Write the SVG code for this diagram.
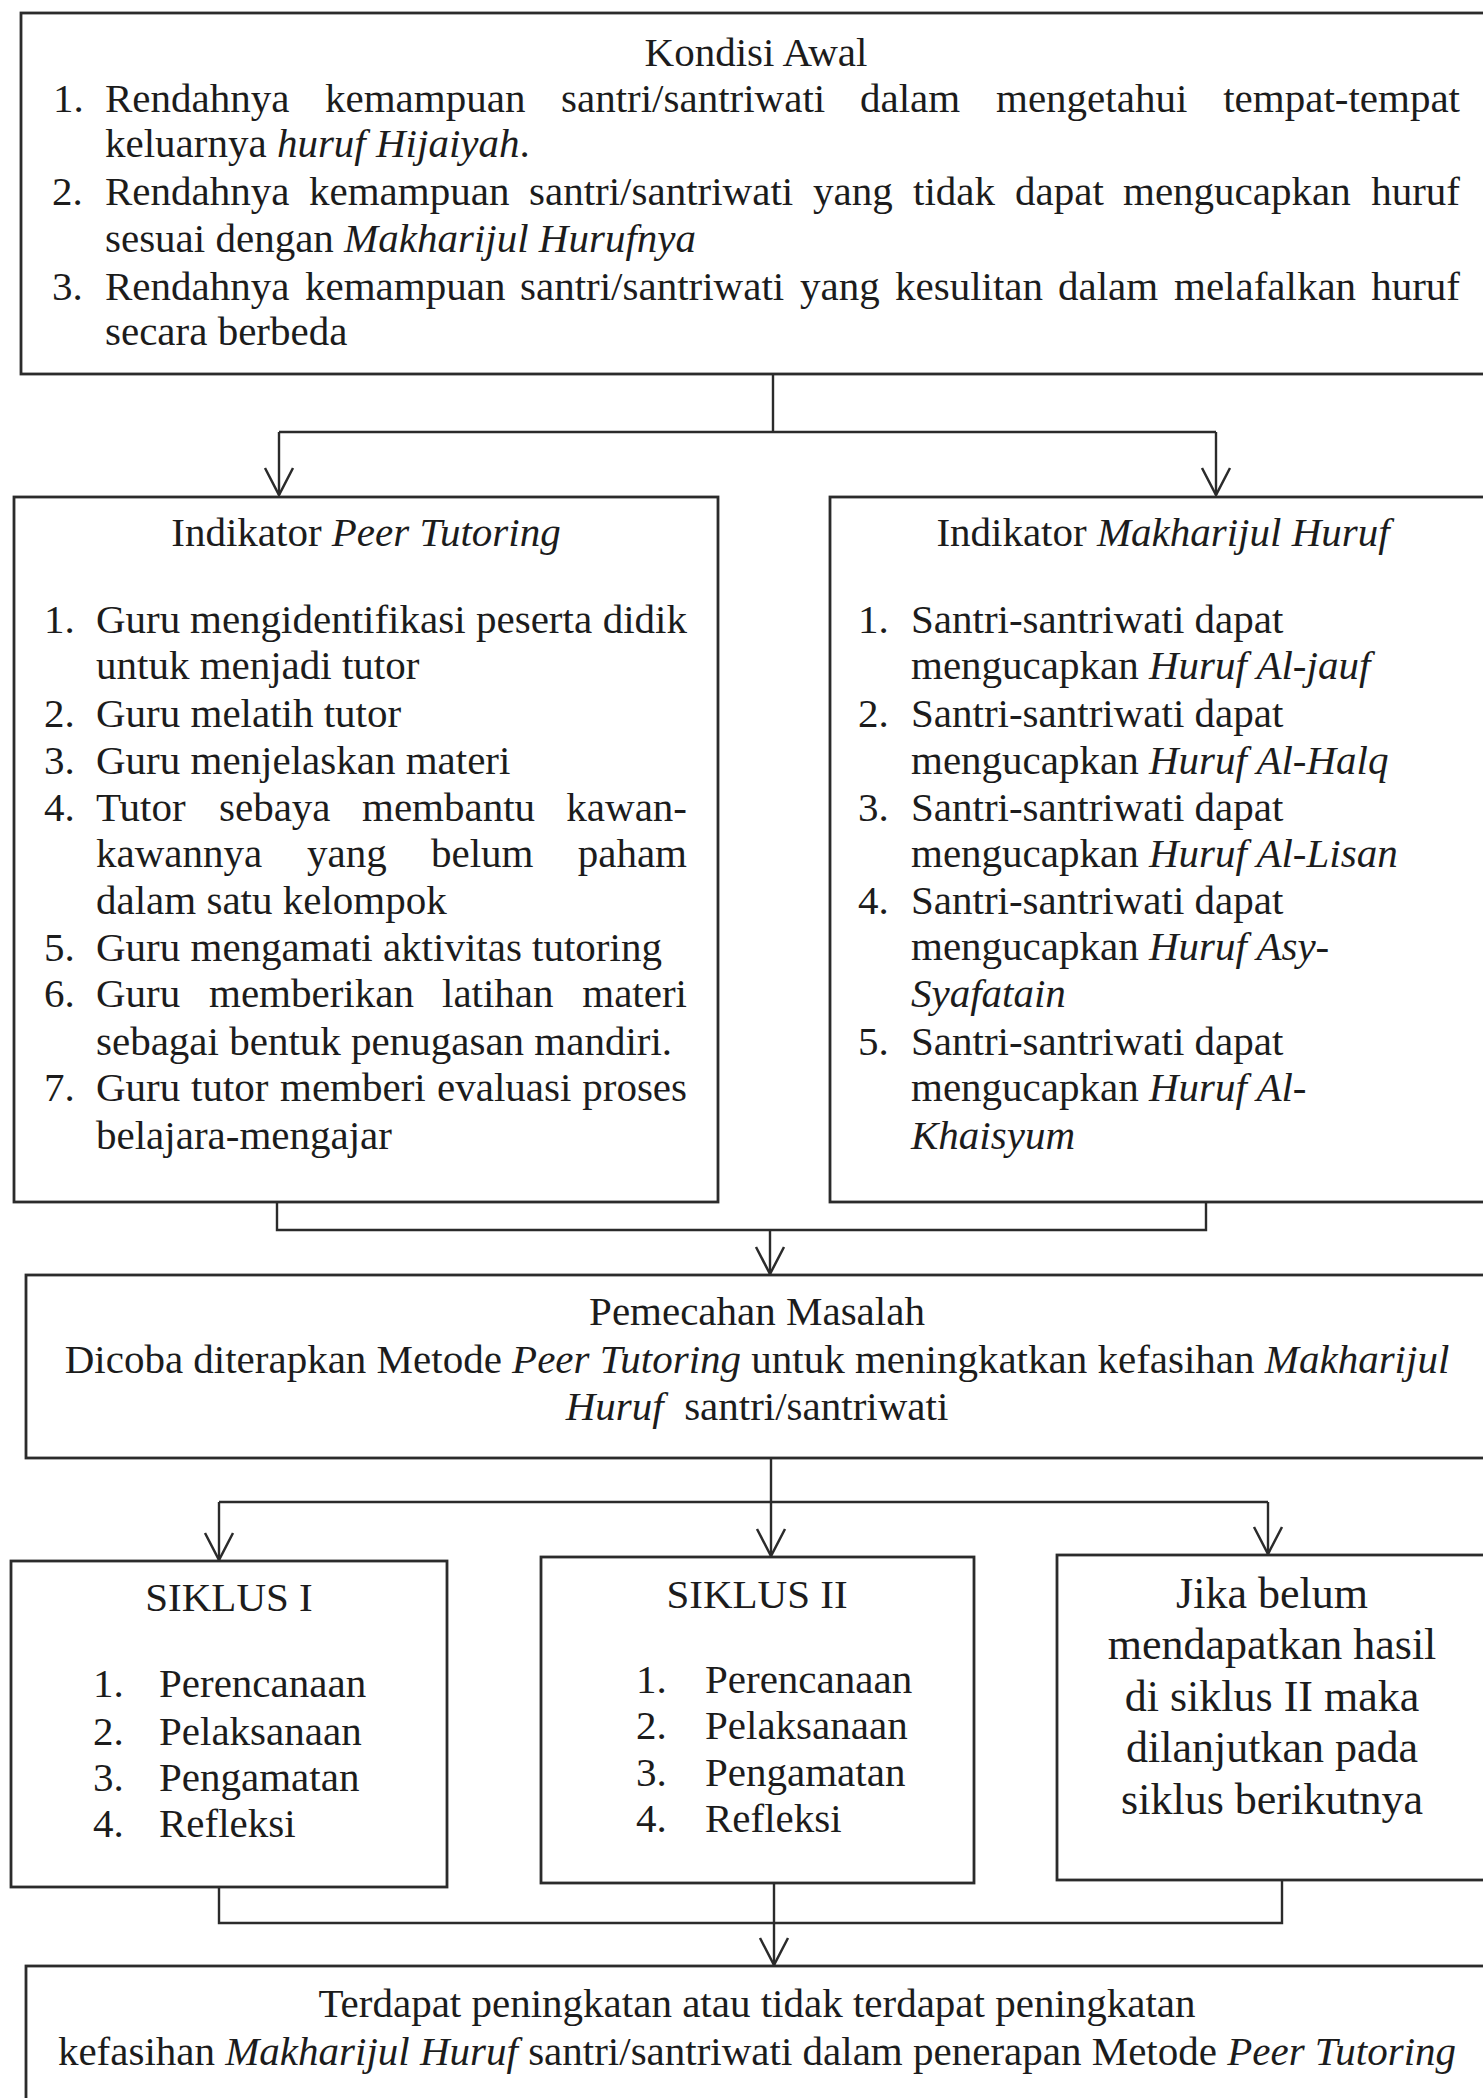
<svg xmlns="http://www.w3.org/2000/svg" width="1483" height="2098" viewBox="0 0 1483 2098">
<style>
.box{fill:#ffffff;stroke:#2b2b2b;stroke-width:2.8}
.t{font-family:"Liberation Serif","Times New Roman",serif;font-size:41px;fill:#1c1c1c}
.big{font-size:44px}
.c{text-anchor:middle}
.e{text-anchor:end}
.i{font-style:italic}
.ln{fill:none;stroke:#2b2b2b;stroke-width:2.4}
</style>
<defs>
<marker id="arr" markerWidth="40" markerHeight="40" refX="30" refY="20" orient="auto" markerUnits="userSpaceOnUse" viewBox="0 0 40 40">
<path d="M3,6 L30,20 L3,34" fill="none" stroke="#2b2b2b" stroke-width="2.5"/>
</marker>
</defs>
<rect x="0" y="0" width="1483" height="2098" fill="#ffffff"/>

<g id="connectors">
<path class="ln" d="M773,374 V432 M279,432 H1216"/>
<path class="ln" d="M279,432 V495" marker-end="url(#arr)"/>
<path class="ln" d="M1216,432 V495" marker-end="url(#arr)"/>
<path class="ln" d="M277,1202 V1230 H1206 V1202"/>
<path class="ln" d="M770,1230 V1274" marker-end="url(#arr)"/>
<path class="ln" d="M771,1458 V1502 M219,1502 H1268"/>
<path class="ln" d="M219,1502 V1560" marker-end="url(#arr)"/>
<path class="ln" d="M771,1502 V1556" marker-end="url(#arr)"/>
<path class="ln" d="M1268,1502 V1554" marker-end="url(#arr)"/>
<path class="ln" d="M219,1887 V1923 H1282 V1880 M774,1883 V1923"/>
<path class="ln" d="M774,1923 V1965" marker-end="url(#arr)"/>
</g>

<g id="kondisi-awal">
<rect class="box" x="21" y="13" width="1471" height="361"/>
<text class="t c" x="756" y="66">Kondisi Awal</text>
<text class="t" y="112"><tspan x="53">1.</tspan><tspan x="105">Rendahnya</tspan><tspan x="325">kemampuan</tspan><tspan x="561">santri/santriwati</tspan><tspan x="860">dalam</tspan><tspan x="996">mengetahui</tspan></text>
<text class="t e" x="1460" y="112">tempat-tempat</text>
<text class="t" x="105" y="157">keluarnya <tspan class="i">huruf Hijaiyah</tspan>.</text>
<text class="t" y="205"><tspan x="52">2.</tspan><tspan x="105">Rendahnya</tspan><tspan x="309">kemampuan</tspan><tspan x="529">santri/santriwati</tspan><tspan x="813">yang</tspan><tspan x="913">tidak</tspan><tspan x="1015">dapat</tspan><tspan x="1123">mengucapkan</tspan></text>
<text class="t e" x="1460" y="205">huruf</text>
<text class="t" x="105" y="252">sesuai dengan <tspan class="i">Makharijul Hurufnya</tspan></text>
<text class="t" y="300"><tspan x="52">3.</tspan><tspan x="105">Rendahnya</tspan><tspan x="305">kemampuan</tspan><tspan x="520">santri/santriwati</tspan><tspan x="800">yang</tspan><tspan x="895">kesulitan</tspan><tspan x="1058">dalam</tspan><tspan x="1174">melafalkan</tspan></text>
<text class="t e" x="1460" y="300">huruf</text>
<text class="t" x="105" y="345">secara berbeda</text>
</g>

<g id="indikator-peer-tutoring">
<rect class="box" x="14" y="497" width="704" height="705"/>
<text class="t c" x="366" y="546">Indikator <tspan class="i">Peer Tutoring</tspan></text>
<text class="t" y="633"><tspan x="44">1.</tspan><tspan x="96">Guru</tspan><tspan x="190">mengidentifikasi</tspan><tspan x="476">peserta</tspan></text>
<text class="t e" x="687" y="633">didik</text>
<text class="t" x="96" y="679">untuk menjadi tutor</text>
<text class="t" y="727"><tspan x="44">2.</tspan><tspan x="96">Guru melatih tutor</tspan></text>
<text class="t" y="774"><tspan x="44">3.</tspan><tspan x="96">Guru menjelaskan materi</tspan></text>
<text class="t" y="821"><tspan x="44">4.</tspan><tspan x="96">Tutor</tspan><tspan x="219">sebaya</tspan><tspan x="362">membantu</tspan></text>
<text class="t e" x="687" y="821">kawan-</text>
<text class="t" y="867"><tspan x="96">kawannya</tspan><tspan x="307">yang</tspan><tspan x="431">belum</tspan></text>
<text class="t e" x="687" y="867">paham</text>
<text class="t" x="96" y="914">dalam satu kelompok</text>
<text class="t" y="961"><tspan x="44">5.</tspan><tspan x="96">Guru mengamati aktivitas tutoring</tspan></text>
<text class="t" y="1007"><tspan x="44">6.</tspan><tspan x="96">Guru</tspan><tspan x="209">memberikan</tspan><tspan x="442">latihan</tspan></text>
<text class="t e" x="687" y="1007">materi</text>
<text class="t" x="96" y="1055">sebagai bentuk penugasan mandiri.</text>
<text class="t" y="1101"><tspan x="44">7.</tspan><tspan x="96">Guru</tspan><tspan x="191">tutor</tspan><tspan x="280">memberi</tspan><tspan x="437">evaluasi</tspan></text>
<text class="t e" x="687" y="1101">proses</text>
<text class="t" x="96" y="1149">belajara-mengajar</text>
</g>

<g id="indikator-makharijul-huruf">
<rect class="box" x="830" y="497" width="662" height="705"/>
<text class="t c" x="1163" y="546">Indikator <tspan class="i">Makharijul Huruf</tspan></text>
<text class="t" y="633"><tspan x="858">1.</tspan><tspan x="911">Santri-santriwati dapat</tspan></text>
<text class="t" x="911" y="679">mengucapkan <tspan class="i">Huruf Al-jauf</tspan></text>
<text class="t" y="727"><tspan x="858">2.</tspan><tspan x="911">Santri-santriwati dapat</tspan></text>
<text class="t" x="911" y="774">mengucapkan <tspan class="i">Huruf Al-Halq</tspan></text>
<text class="t" y="821"><tspan x="858">3.</tspan><tspan x="911">Santri-santriwati dapat</tspan></text>
<text class="t" x="911" y="867">mengucapkan <tspan class="i">Huruf Al-Lisan</tspan></text>
<text class="t" y="914"><tspan x="858">4.</tspan><tspan x="911">Santri-santriwati dapat</tspan></text>
<text class="t" x="911" y="960">mengucapkan <tspan class="i">Huruf Asy-</tspan></text>
<text class="t i" x="911" y="1007">Syafatain</text>
<text class="t" y="1055"><tspan x="858">5.</tspan><tspan x="911">Santri-santriwati dapat</tspan></text>
<text class="t" x="911" y="1101">mengucapkan <tspan class="i">Huruf Al-</tspan></text>
<text class="t i" x="911" y="1149">Khaisyum</text>
</g>

<g id="pemecahan-masalah">
<rect class="box" x="26" y="1275" width="1466" height="183"/>
<text class="t c" x="757" y="1325">Pemecahan Masalah</text>
<text class="t c" x="757" y="1373">Dicoba diterapkan Metode <tspan class="i">Peer Tutoring</tspan> untuk meningkatkan kefasihan <tspan class="i">Makharijul</tspan></text>
<text class="t c" x="757" y="1420" xml:space="preserve"><tspan class="i">Huruf</tspan>  santri/santriwati</text>
</g>

<g id="siklus-1">
<rect class="box" x="11" y="1561" width="436" height="326"/>
<text class="t c" x="229" y="1611">SIKLUS I</text>
<text class="t" y="1697"><tspan x="93">1.</tspan><tspan x="159">Perencanaan</tspan></text>
<text class="t" y="1745"><tspan x="93">2.</tspan><tspan x="159">Pelaksanaan</tspan></text>
<text class="t" y="1791"><tspan x="93">3.</tspan><tspan x="159">Pengamatan</tspan></text>
<text class="t" y="1837"><tspan x="93">4.</tspan><tspan x="159">Refleksi</tspan></text>
</g>

<g id="siklus-2">
<rect class="box" x="541" y="1557" width="433" height="326"/>
<text class="t c" x="757" y="1608">SIKLUS II</text>
<text class="t" y="1693"><tspan x="636">1.</tspan><tspan x="705">Perencanaan</tspan></text>
<text class="t" y="1739"><tspan x="636">2.</tspan><tspan x="705">Pelaksanaan</tspan></text>
<text class="t" y="1786"><tspan x="636">3.</tspan><tspan x="705">Pengamatan</tspan></text>
<text class="t" y="1832"><tspan x="636">4.</tspan><tspan x="705">Refleksi</tspan></text>
</g>

<g id="siklus-lanjut">
<rect class="box" x="1057" y="1555" width="435" height="325"/>
<text class="t big c" x="1272" y="1608">Jika belum</text>
<text class="t big c" x="1272" y="1659">mendapatkan hasil</text>
<text class="t big c" x="1272" y="1711">di siklus II maka</text>
<text class="t big c" x="1272" y="1762">dilanjutkan pada</text>
<text class="t big c" x="1272" y="1814">siklus berikutnya</text>
</g>

<g id="hasil">
<rect class="box" x="26" y="1966" width="1466" height="150"/>
<text class="t c" x="757" y="2017">Terdapat peningkatan atau tidak terdapat peningkatan</text>
<text class="t c" x="757" y="2065">kefasihan <tspan class="i">Makharijul Huruf</tspan> santri/santriwati dalam penerapan Metode <tspan class="i">Peer Tutoring</tspan></text>
</g>
</svg>
